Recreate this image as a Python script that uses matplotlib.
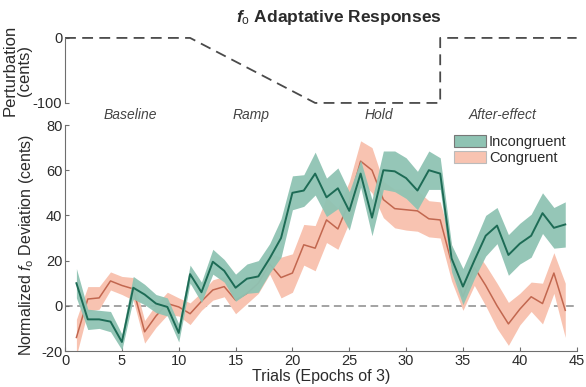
import matplotlib

matplotlib.use("Agg")

import matplotlib.pyplot as plt
import numpy as np
from matplotlib.patches import Patch

plt.rcParams["font.family"] = ["Liberation Sans", "DejaVu Sans"]
plt.rcParams["axes.unicode_minus"] = False
plt.rcParams["mathtext.fontset"] = "custom"
plt.rcParams["mathtext.rm"] = "Liberation Sans"
plt.rcParams["mathtext.it"] = "Liberation Sans:italic"
plt.rcParams["mathtext.bf"] = "Liberation Sans:bold"
plt.rcParams["mathtext.bfit"] = "Liberation Sans:italic:bold"

# trial epochs
trials = np.arange(1, 45)

# incongruent mean and half-width of the shaded band
incong_mean = [10, -6, -6, -7, -16, 8, 5, 1, -0.5, -12,
               14, 6, 19.5, 15.5, 8, 12, 13, 21, 30, 50,
               51, 58.5, 48, 52, 42, 58.5, 39, 60, 59.5, 56.5,
               51, 60, 58.5, 21, 8.5, 20, 31, 35.5, 22.5, 27.5,
               31, 41, 34.5, 36]
incong_err = [6.5, 4.5, 4, 4.5, 3.5, 5, 4.5, 4, 4, 4,
              4, 4.5, 5.5, 5, 6, 6.5, 7, 6.5, 8.5, 7.5,
              7, 9.5, 8.5, 9, 8.5, 6, 8, 8.5, 9, 9,
              8.5, 8.5, 7, 6, 8, 8, 9, 8, 9, 9,
              9.5, 9, 9, 10]

# congruent mean and half-width
cong_mean = [-14, 3, 3.5, 11, 9, 7.5, -11.5, -4.5, 1, -0.5,
             -3.5, 2, 7, 8.5, 2.5, 5.5, 10, 18.5, 12.5, 14.5,
             27, 25.5, 38, 34, 46, 64, 60, 47, 43, 42.5,
             42, 38.5, 38, 19, 4, 17, 9, 0, -8, -1.5,
             4, 1, 14.5, -2]
cong_err = [8, 5.5, 5, 4, 4, 5, 5, 5, 5, 4,
            4.8, 4, 4.5, 4.5, 6, 4.5, 4.5, 4.5, 9, 8.5,
            9, 10, 10, 9, 9, 9, 10, 8, 8.5, 9,
            9, 8, 8, 8, 6, 8, 9, 10, 9.5, 7,
            6.5, 9, 9, 12]

# perturbation schedule (cents)
pert_x = [0, 11, 22, 33, 33, 45]
pert_y = [0, 0, -100, -100, 0, 0]

phase_names = ["Baseline", "Ramp", "Hold", "After-effect"]
phase_centers = [5.75, 16.4, 27.6, 38.5]

GREEN_FILL = "#8fc3b3"
GREEN_LINE = "#1d6b55"
RED_FILL = "#f8c3b1"
RED_LINE = "#c2674f"
SPINE = "#6e6e6e"
TEXT = "#2b2b2b"

fig = plt.figure(figsize=(5.86, 3.87), dpi=100)

# perturbation panel
ax_p = fig.add_axes([0.111, 0.734, 0.873, 0.168])
ax_p.plot(pert_x, pert_y, color="#4a4a4a", lw=1.3, dashes=(6, 3.5), clip_on=False)
ax_p.set_xlim(0, 45)
ax_p.set_ylim(-100, 0)
ax_p.set_yticks([0, -100])
ax_p.set_xticks([])
for side in ["top", "right", "bottom"]:
    ax_p.spines[side].set_visible(False)
ax_p.spines["left"].set_color(SPINE)
ax_p.tick_params(axis="y", direction="in", length=3, colors=SPINE,
                 labelcolor=TEXT, labelsize=10.5, pad=2)
ax_p.set_ylabel("Perturbation\n(cents)", fontsize=12, color=TEXT,
                linespacing=0.95)
ax_p.yaxis.set_label_coords(-0.064, 0.5)

# response panel
ax = fig.add_axes([0.111, 0.093, 0.873, 0.584])
ax.axhline(0, color="#8a8a8a", lw=1.1, dashes=(5, 3), zorder=1)
ax.fill_between(trials, np.subtract(cong_mean, cong_err),
                np.add(cong_mean, cong_err), color=RED_FILL, lw=0, zorder=2)
ax.plot(trials, cong_mean, color=RED_LINE, lw=1.1, zorder=3)
ax.fill_between(trials, np.subtract(incong_mean, incong_err),
                np.add(incong_mean, incong_err), color=GREEN_FILL, lw=0,
                alpha=0.95, zorder=4)
ax.plot(trials, incong_mean, color=GREEN_LINE, lw=1.4, zorder=5)

ax.set_xlim(0, 45)
ax.set_ylim(-20, 80)
ax.set_xticks(range(0, 46, 5))
ax.set_yticks(range(-20, 81, 20))
for side in ["top", "right"]:
    ax.spines[side].set_visible(False)
for side in ["left", "bottom"]:
    ax.spines[side].set_color(SPINE)
ax.tick_params(direction="in", length=3, colors=SPINE, labelcolor=TEXT,
               labelsize=10.5, pad=2)
ax.set_xlabel("Trials (Epochs of 3)", fontsize=11.5, color=TEXT, labelpad=1)
ax.set_ylabel(r"Normalized $\mathit{f}_{\mathrm{o}}$ Deviation (cents)",
              fontsize=11.5, color=TEXT)
ax.yaxis.set_label_coords(-0.057, 0.47)

for name, xc in zip(phase_names, phase_centers):
    ax.text(xc, 81.5, name, ha="center", va="bottom", style="italic",
            fontsize=10, color="#444444")

handles = [Patch(facecolor=GREEN_FILL, edgecolor="#777777", lw=0.8,
                 label="Incongruent"),
           Patch(facecolor=RED_FILL, edgecolor="#bbbbbb", lw=0.8,
                 label="Congruent")]
ax.legend(handles=handles, loc="upper right", bbox_to_anchor=(1.0, 1.0),
          frameon=False, fontsize=10.5, handlelength=2.2, handleheight=0.9,
          handletextpad=0.2, labelspacing=0.1, borderaxespad=0.3,
          labelcolor=TEXT)

fig.text(0.578, 0.955, r"$\mathbfit{f}_{\mathrm{o}}$ Adaptative Responses",
         ha="center", va="center", fontsize=12.5, fontweight="bold",
         color=TEXT)

fig.savefig("out.png", dpi=100)
